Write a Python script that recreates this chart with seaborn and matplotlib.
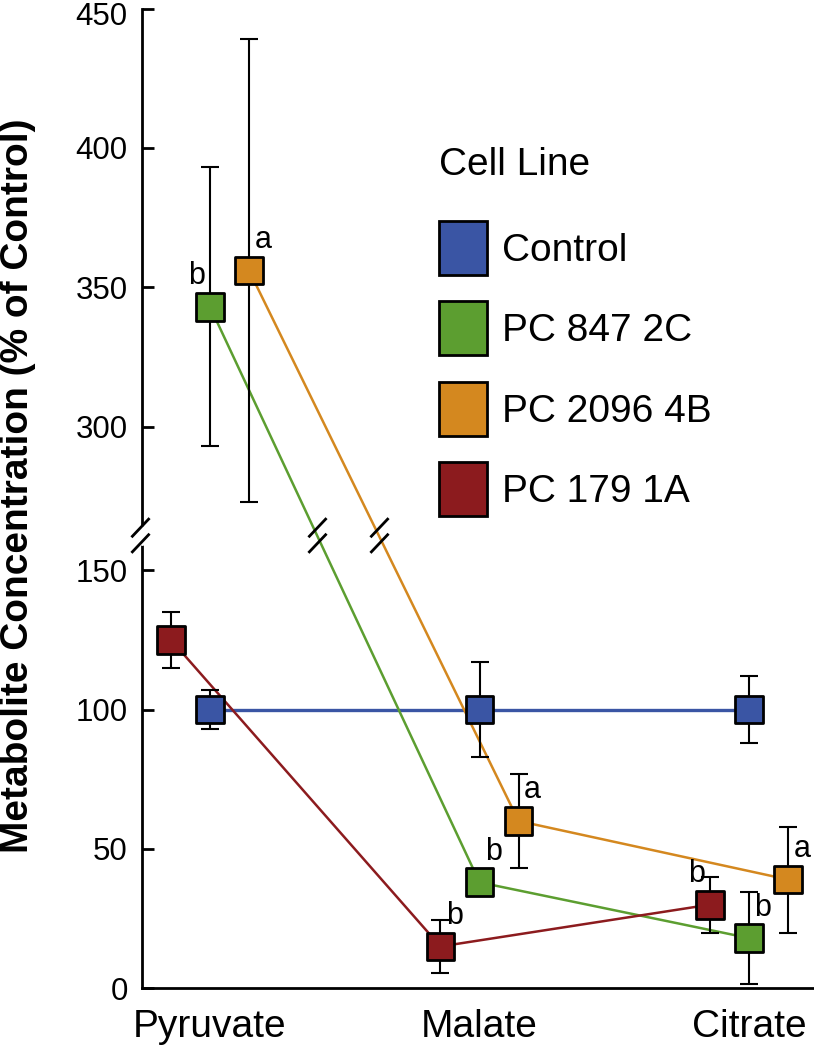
import matplotlib
matplotlib.use('Agg')
import pandas as pd
import seaborn as sns
import matplotlib.pyplot as plt
from matplotlib.patches import Patch
from matplotlib.path import Path
from matplotlib.transforms import blended_transform_factory, ScaledTranslation

# --- Styling ---
sns.set_style("ticks")
plt.rcParams['font.family'] = ['Liberation Sans', 'DejaVu Sans']
plt.rcParams['text.color'] = 'black'
plt.rcParams['axes.labelcolor'] = 'black'
plt.rcParams['xtick.color'] = 'black'
plt.rcParams['ytick.color'] = 'black'
plt.rcParams['axes.edgecolor'] = 'black'

# --- Data (mean and error, % of control) ---
metabolites = ['Pyruvate', 'Malate', 'Citrate']
cell_lines = ['Control', 'PC 847 2C', 'PC 2096 4B', 'PC 179 1A']

control_mean = [100, 100, 100]
control_err = [7, 17, 12]
pc847_mean = [343, 38, 18]
pc847_err = [50, 3, 16.5]
pc2096_mean = [356, 60, 39]
pc2096_err = [83, 17, 19]
pc179_mean = [125, 15, 30]
pc179_err = [10, 9.5, 10]

# significance letters: (metabolite, cell line, letter)
letters = [
    ('Pyruvate', 'PC 847 2C', 'b'),
    ('Pyruvate', 'PC 2096 4B', 'a'),
    ('Malate', 'PC 2096 4B', 'a'),
    ('Malate', 'PC 847 2C', 'b'),
    ('Malate', 'PC 179 1A', 'b'),
    ('Citrate', 'PC 2096 4B', 'a'),
    ('Citrate', 'PC 179 1A', 'b'),
    ('Citrate', 'PC 847 2C', 'b'),
]

ytick_values = [0, 50, 100, 150, 300, 350, 400, 450]

# --- Style settings ---
palette = {'Control': '#3A55A4', 'PC 847 2C': '#5C9E30',
           'PC 2096 4B': '#D4881F', 'PC 179 1A': '#8C1B1E'}
dodge = {'Control': 0.0, 'PC 847 2C': 0.0, 'PC 2096 4B': 0.145, 'PC 179 1A': -0.145}
line_w = {'Control': 2.4, 'PC 847 2C': 1.8, 'PC 2096 4B': 1.8, 'PC 179 1A': 1.8}
letter_side = {('Pyruvate', 'PC 847 2C'): -1, ('Citrate', 'PC 179 1A'): -1}

# broken axis: values above the gap are shifted down
BREAK_AT = 200
BREAK_SHIFT = 98.5
BREAK_Y = 162.5


def to_display(v):
    return v if v < BREAK_AT else v - BREAK_SHIFT


means = {'Control': control_mean, 'PC 847 2C': pc847_mean,
         'PC 2096 4B': pc2096_mean, 'PC 179 1A': pc179_mean}
errs = {'Control': control_err, 'PC 847 2C': pc847_err,
        'PC 2096 4B': pc2096_err, 'PC 179 1A': pc179_err}

rows = []
for cl in cell_lines:
    for i, m in enumerate(metabolites):
        rows.append({'metabolite': m, 'cell_line': cl, 'value': means[cl][i],
                     'err': errs[cl][i], 'x': i + dodge[cl]})
df = pd.DataFrame(rows)
df['y'] = df['value'].map(to_display)

fig = plt.figure(figsize=(8.14, 10.5), dpi=100)
ax = fig.add_axes([0.1741, 0.0588, 0.8259, 0.9330])

# connecting lines
for cl in cell_lines:
    sns.lineplot(data=df[df['cell_line'] == cl], x='x', y='y', color=palette[cl],
                 linewidth=line_w[cl], estimator=None, sort=False, ax=ax, zorder=2)

# error bars
ax.errorbar(df['x'], df['y'], yerr=df['err'], fmt='none', ecolor='black',
            elinewidth=1.5, capsize=6.5, capthick=1.5, zorder=3)

# square markers
sns.scatterplot(data=df, x='x', y='y', hue='cell_line', palette=palette,
                hue_order=cell_lines, marker='s', s=400, edgecolor='black',
                linewidth=2, legend=False, ax=ax, zorder=4)

# significance letters
for m, cl, letter in letters:
    r = df[(df['metabolite'] == m) & (df['cell_line'] == cl)].iloc[0]
    side = letter_side.get((m, cl), 1)
    ax.annotate(letter, (r['x'], r['y']), xytext=(side * 10, 22),
                textcoords='offset points', ha='center', va='center',
                fontsize=22, zorder=5)

# break marks (two slashes as one marker)
slash = Path([(-9, -1.75), (9, 17.25), (-9, -17.25), (9, 1.75)],
             [Path.MOVETO, Path.LINETO, Path.MOVETO, Path.LINETO])

# on the lines that cross the gap
for cl in cell_lines:
    sub = df[df['cell_line'] == cl].reset_index(drop=True)
    for k in range(len(sub) - 1):
        a, b = sub.loc[k], sub.loc[k + 1]
        if (a['value'] >= BREAK_AT) != (b['value'] >= BREAK_AT):
            t = (a['y'] - BREAK_Y) / (a['y'] - b['y'])
            xc = a['x'] + t * (b['x'] - a['x'])
            ax.plot([xc], [BREAK_Y], marker=slash, markersize=25, color='black',
                    markeredgewidth=2, linestyle='none', zorder=5)

# on the y axis
trans = blended_transform_factory(ax.transAxes, ax.transData)
ax.plot([0, 0], [BREAK_Y - 2.3, BREAK_Y + 2.3], color='white', linewidth=5,
        transform=trans, clip_on=False, zorder=5)
ax.plot([-0.0025], [BREAK_Y], marker=slash, markersize=25, color='black',
        markeredgewidth=2, linestyle='none', transform=trans, clip_on=False, zorder=6)

# axes
ax.set_xlim(-0.2534, 2.241)
ax.set_ylim(0, 351.5)
ax.set_xticks(range(len(metabolites)), metabolites)
ax.set_yticks([to_display(v) for v in ytick_values], [str(v) for v in ytick_values])
ax.tick_params(axis='x', length=0, pad=15, labelsize=28)
ax.tick_params(axis='y', direction='in', length=8.5, width=2, pad=10, labelsize=22.5)
for s in ['top', 'right']:
    ax.spines[s].set_visible(False)
for s in ['left', 'bottom']:
    ax.spines[s].set_linewidth(2)
ax.set_xlabel('')
ax.set_ylabel('Metabolite Concentration (% of Control)', fontsize=28, fontweight='bold')
ax.yaxis.set_label_coords(-0.157, 0.513)

# keep the top tick label inside the canvas
top_label = ax.get_yticklabels()[-1]
top_label.set_transform(top_label.get_transform() + ScaledTranslation(0, -0.05, fig.dpi_scale_trans))

# legend (title placed as its own text for the wider gap)
fig.text(439 / 814, 1 - 165 / 1050, 'Cell Line', ha='left', va='center', fontsize=28)
handles = [Patch(facecolor=palette[cl], edgecolor='black', linewidth=2) for cl in cell_lines]
ax.legend(handles, cell_lines, fontsize=28,
          frameon=False, handlelength=1.23, handleheight=1.76, handletextpad=0.39,
          labelspacing=0.68, loc='upper left',
          bbox_to_anchor=(439 / 814, 1 - 221 / 1050), bbox_transform=fig.transFigure,
          borderpad=0, borderaxespad=0)

fig.savefig('out.png', dpi=100)
